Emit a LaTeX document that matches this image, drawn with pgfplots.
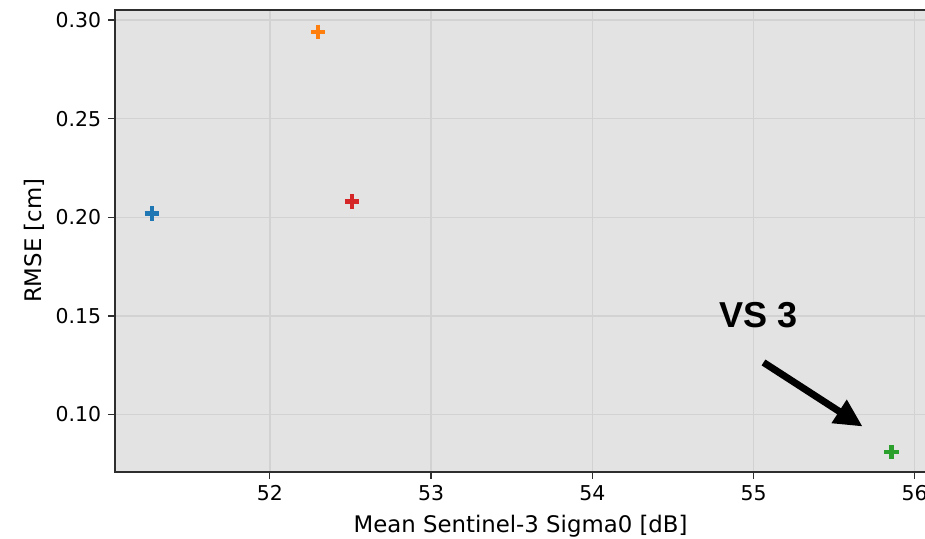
\documentclass[border=0pt]{standalone}
\usepackage{pgfplots}
\pgfplotsset{compat=1.18}
\usepackage{fontspec}
\setmainfont{DejaVu Sans}
\newfontfamily\annfont{Liberation Sans}
\usetikzlibrary{arrows.meta}
\definecolor{tabblue}{HTML}{1F77B4}
\definecolor{taborange}{HTML}{FF7F0E}
\definecolor{tabgreen}{HTML}{2CA02C}
\definecolor{tabred}{HTML}{D62728}
\definecolor{bg}{HTML}{E3E3E3}
\definecolor{gridc}{HTML}{D2D2D2}
\definecolor{spine}{HTML}{2E2E2E}
\begin{document}
\begin{tikzpicture}
\begin{axis}[
  name=ax,
  scale only axis,
  width=405pt, height=230.5pt,
  xmin=51.04, xmax=56.07,
  ymin=0.0711, ymax=0.3051,
  xtick={52,53,54,55,56},
  ytick={0.10,0.15,0.20,0.25,0.30},
  yticklabel style={/pgf/number format/.cd,fixed,fixed zerofill,precision=2},
  /pgf/number format/assume math mode=true,
  tick label style={font=\fontsize{10.2}{12}\selectfont, color=black},
  label style={font=\fontsize{11.4}{13}\selectfont},
  xlabel={Mean Sentinel-3 Sigma0 [dB]},
  ylabel={RMSE [cm]},
  xlabel style={yshift=0pt},
  ylabel style={yshift=-1.5pt},
  axis background/.style={fill=bg},
  grid=major,
  major grid style={gridc, line width=0.7pt},
  axis line style={spine, line width=1pt},
  tick align=outside,
  tick pos=left,
  major tick length=3.5pt,
  tick style={spine, line width=0.6pt},
  clip=false,
]
\addplot[only marks, mark=+, mark size=3.6pt, line width=2.2pt, color=tabblue] coordinates {(51.267,0.202)};
\addplot[only marks, mark=+, mark size=3.6pt, line width=2.2pt, color=taborange] coordinates {(52.30,0.294)};
\addplot[only marks, mark=+, mark size=3.6pt, line width=2.2pt, color=tabred] coordinates {(52.51,0.208)};
\addplot[only marks, mark=+, mark size=3.6pt, line width=2.2pt, color=tabgreen] coordinates {(55.857,0.081)};
\node[font=\annfont\bfseries\fontsize{18}{20}\selectfont] at (axis cs:55.03,0.1503) {VS 3};
\draw[line width=3.5pt, -{Triangle[length=14pt,width=13pt]}] (axis cs:55.062,0.1264) -- (axis cs:55.677,0.0939);
\end{axis}
\pgfresetboundingbox
\path[use as bounding box] ([xshift=-57.5pt,yshift=-33.5pt]ax.south west) rectangle ([xshift=-0.5pt,yshift=5pt]ax.north east);
\end{tikzpicture}
\end{document}
